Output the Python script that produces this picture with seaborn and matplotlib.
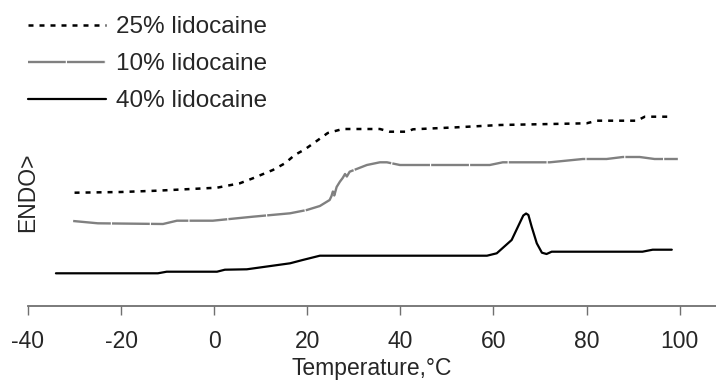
import matplotlib
matplotlib.use("Agg")
import matplotlib.pyplot as plt
import seaborn as sns

# DSC thermograms: temperature (°C) and heat flow (arbitrary units, endotherm up)
t_25 = [-30, -20, -12.3, 0.6, 5.5, 8.3, 12.6, 15.2, 17.3, 19.5, 22.1, 24.4, 27.6,
        35.6, 37.7, 41.4, 42.7, 52.1, 61.4, 80, 82.2, 90.8, 92.5, 98]
hf_25 = [113.3, 114.0, 115.3, 118.3, 122.7, 127.7, 136.0, 142.7, 151.0, 156.7, 165.3,
         173.0, 177.0, 177.0, 174.3, 174.3, 176.7, 178.7, 181.0, 182.7, 185.3, 185.3,
         189.3, 189.3]

t_10 = [-30.3, -25, -11, -8, -0.3, 8.3, 16.3, 19.9, 22.7, 24.8, 25.2, 25.5, 25.8, 26.3,
        27.0, 27.6, 28.1, 28.5, 29.1, 32.8, 35.6, 37.1, 39.9, 59.2, 62, 72.1, 79.2,
        84.3, 87.8, 91.4, 94.6, 99.6]
hf_10 = [85.0, 82.7, 82.0, 85.3, 85.3, 89.3, 92.7, 96.0, 100.0, 106.0, 110.0, 114.5,
         110.5, 119.0, 124.3, 128.0, 132.0, 129.5, 134.3, 141.0, 143.7, 143.7, 141.0,
         141.0, 143.7, 143.7, 147.0, 147.0, 149.0, 149.0, 147.0, 147.0]

t_40 = [-34, -12.1, -10.2, 0.6, 2.3, 7, 16.3, 19, 22.7, 35.6, 58.6, 60.7, 63.9, 65.6,
        66.4, 67.0, 67.5, 68.2, 69.3, 70.4, 71.4, 72.5, 92, 94.2, 98.3]
hf_40 = [32.7, 32.7, 34.3, 34.3, 36.3, 36.7, 42.7, 46.0, 50.3, 50.3, 50.3, 52.7, 66.0,
         82.7, 90.5, 92.5, 91.0, 79.3, 62.7, 53.3, 52.0, 54.3, 54.3, 56.3, 56.3]

labels = ["25% lidocaine", "10% lidocaine", "40% lidocaine"]
x_ticks = [-40, -20, 0, 20, 40, 60, 80, 100]

sns.set_theme(style="white")
plt.rcParams["font.family"] = ["Liberation Sans", "DejaVu Sans"]

fig = plt.figure(figsize=(7.16, 3.88), dpi=100)
ax = fig.add_axes([28 / 716, 82 / 388, 1 - 28 / 716, 1 - 82 / 388])

sns.lineplot(x=t_25, y=hf_25, ax=ax, color="black", linewidth=1.8,
             estimator=None, sort=False, label=labels[0],
             linestyle=(0, (2.0, 2.4)))
sns.lineplot(x=t_10, y=hf_10, ax=ax, color="#808080", linewidth=1.7,
             estimator=None, sort=False, label=labels[1],
             linestyle=(0, (16, 0.5)))
sns.lineplot(x=t_40, y=hf_40, ax=ax, color="black", linewidth=1.6,
             estimator=None, sort=False, label=labels[2])

ax.set_xlim(-40, 107.8)
ax.set_ylim(0, 306)
ax.set_xticks(x_ticks)
ax.set_xticklabels([str(v) for v in x_ticks])
ax.set_yticks([])
ax.set_ylabel("")

for side in ("top", "right", "left"):
    ax.spines[side].set_visible(False)
ax.spines["bottom"].set_color("#707070")
ax.spines["bottom"].set_linewidth(1.3)
ax.tick_params(axis="x", direction="out", length=6.5, width=1.0, color="#707070",
               labelsize=16.5, pad=11, bottom=True)

ax.set_xlabel("Temperature,°C", fontsize=16.5, labelpad=3)

fig.text(28 / 716, 1 - 192.5 / 388, "ENDO>", rotation=90, ha="center",
         va="center", fontsize=16.5)

ax.legend(loc="upper left", bbox_to_anchor=(28 / 716, 1 - 16 / 388),
          bbox_transform=fig.transFigure, frameon=False, fontsize=17.5,
          handlelength=3.2, handletextpad=0.42, labelspacing=0.62,
          borderpad=0, borderaxespad=0)

fig.savefig("out.png", dpi=100)
